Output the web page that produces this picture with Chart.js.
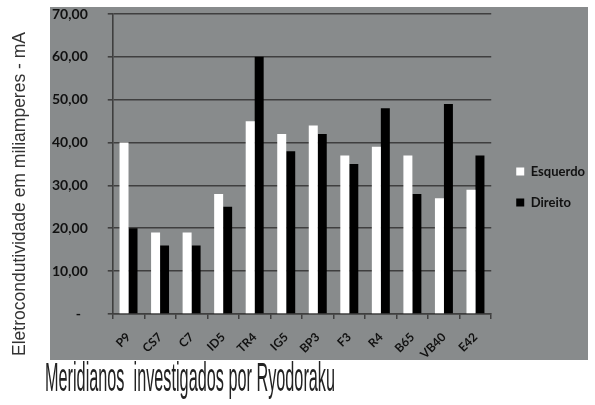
<!DOCTYPE html>
<html>
<head>
<meta charset="utf-8">
<script src="https://cdn.jsdelivr.net/npm/chart.js@4"></script>
<style>
  body { margin: 0; background: #fff; }
  canvas { display: block; }
</style>
</head>
<body>
<canvas id="myChart" width="595" height="405"></canvas>
<script>
const meridians = ["P9", "CS7", "C7", "ID5", "TR4", "IG5", "BP3", "F3", "R4", "B65", "VB40", "E42"];
const esquerdo = [40, 19, 19, 28, 45, 42, 44, 37, 39, 37, 27, 29];
const direito = [20, 16, 16, 25, 60, 38, 42, 35, 48, 28, 49, 37];
const yTicks = [0, 10, 20, 30, 40, 50, 60, 70];

const yTitle = "Eletrocondutividade em miliamperes - mA";
const xTitle = "Meridianos  investigados por Ryodoraku";

const gridColor = "#3f3f3f";

// gray panel behind the plot and legend, titles drawn on white around it
const panelPlugin = {
  id: "panel",
  beforeDraw(chart) {
    const ctx = chart.ctx;
    ctx.save();
    ctx.fillStyle = "#888b8c";
    ctx.fillRect(50, 7, 538, 353);
    ctx.restore();
  },
  afterDraw(chart) {
    const ctx = chart.ctx;
    // y title, squeezed to the length it has in the picture
    ctx.save();
    ctx.font = '18px "Liberation Sans", Arial, sans-serif';
    ctx.fillStyle = "#333";
    ctx.textAlign = "center";
    ctx.textBaseline = "middle";
    let w = ctx.measureText(yTitle).width;
    ctx.translate(20, 194);
    ctx.rotate(-Math.PI / 2);
    ctx.scale(324 / w, 1);
    ctx.fillText(yTitle, 0, 0);
    ctx.restore();

    // x title
    ctx.save();
    ctx.font = '40px "Liberation Sans Narrow", "Liberation Sans", sans-serif';
    ctx.fillStyle = "#222";
    ctx.textAlign = "left";
    ctx.textBaseline = "alphabetic";
    w = ctx.measureText(xTitle).width;
    ctx.translate(45, 391);
    ctx.scale(290 / w, 1);
    ctx.fillText(xTitle, 0, 0);
    ctx.restore();
  }
};

new Chart(document.getElementById("myChart"), {
  type: "bar",
  data: {
    labels: meridians,
    datasets: [
      {
        label: "Esquerdo",
        data: esquerdo,
        backgroundColor: "#ffffff",
        borderWidth: 0,
        categoryPercentage: 0.57,
        barPercentage: 1.0
      },
      {
        label: "Direito",
        data: direito,
        backgroundColor: "#000000",
        borderWidth: 0,
        categoryPercentage: 0.57,
        barPercentage: 1.0
      }
    ]
  },
  options: {
    responsive: false,
    devicePixelRatio: 1,
    animation: false,
    layout: {
      padding: { left: 32, top: 14, right: 0, bottom: 45 }
    },
    plugins: {
      title: { display: false },
      tooltip: { enabled: false },
      legend: {
        position: "right",
        maxWidth: 97,
        labels: {
          boxWidth: 8,
          boxHeight: 8,
          padding: 18,
          color: "#111",
          font: { family: "Lato, 'Open Sans', sans-serif", size: 13, weight: "bold" }
        }
      }
    },
    scales: {
      x: {
        afterFit(scale) { scale.height = 46; },
        grid: {
          display: true,
          drawOnChartArea: false,
          drawTicks: true,
          tickLength: 5,
          color: gridColor,
          lineWidth: 1.5
        },
        border: { display: true, color: gridColor, width: 1.5 },
        ticks: {
          color: "#111",
          minRotation: 45,
          maxRotation: 45,
          padding: 11,
          font: { family: "Lato, 'Open Sans', sans-serif", size: 12, weight: "bold" }
        }
      },
      y: {
        min: 0,
        max: 70,
        afterBuildTicks(scale) {
          scale.ticks = yTicks.map(v => ({ value: v }));
        },
        afterFit(scale) {
          // tick padding is only meant to be horizontal here
          scale.paddingTop = 8;
          scale.paddingBottom = 8;
        },
        grid: {
          color: gridColor,
          lineWidth: 1.6,
          tickLength: 5
        },
        border: { display: true, color: gridColor, width: 1.6 },
        ticks: {
          color: "#111",
          padding: 20,
          font: { family: "Lato, 'Open Sans', sans-serif", size: 14, weight: "bold" },
          callback: v => v === 0 ? "-  " : v.toFixed(2).replace(".", ",")
        }
      },
      gap: {
        position: "right",
        display: true,
        grid: { display: false },
        border: { display: false },
        ticks: { display: false },
        afterFit(scale) { scale.width = 7; }
      }
    }
  },
  plugins: [panelPlugin]
});
</script>
</body>
</html>
